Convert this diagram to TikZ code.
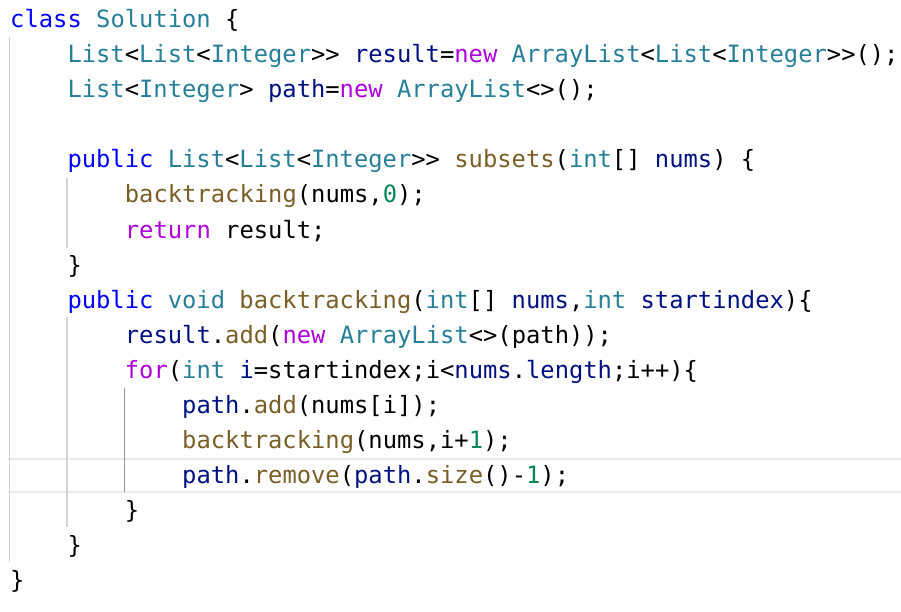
\documentclass[tikz,border=0pt]{standalone}
\usepackage{fontspec}
\usepackage{xcolor}
\setmonofont{DejaVu Sans Mono}
\definecolor{kwblue}{HTML}{0000FF}
\definecolor{tyteal}{HTML}{267F99}
\definecolor{fnbrown}{HTML}{795E26}
\definecolor{vrnavy}{HTML}{001080}
\definecolor{nmgreen}{HTML}{098658}
\definecolor{ctpurple}{HTML}{AF00DB}
\definecolor{guidegray}{HTML}{D3D3D3}
\definecolor{activegray}{HTML}{959595}
\definecolor{hlgray}{HTML}{EAEAEA}
\def\kw#1{\textcolor{kwblue}{#1}}
\def\ty#1{\textcolor{tyteal}{#1}}
\def\fn#1{\textcolor{fnbrown}{#1}}
\def\vr#1{\textcolor{vrnavy}{#1}}
\def\nm#1{\textcolor{nmgreen}{#1}}
\def\ct#1{\textcolor{ctpurple}{#1}}

\begin{document}
\begin{tikzpicture}[x=1pt,y=-1pt,
    code/.style={anchor=base west,inner sep=0pt,
        font=\fontsize{23.8}{35}\selectfont\ttfamily},
    guide/.style={guidegray,line width=1.2pt}]
            \useasboundingbox (0,0) rectangle (901,612);
            % current line highlight
            \draw[hlgray,line width=2pt] (8,459) -- (901,459);
            \draw[hlgray,line width=2pt] (8,492) -- (901,492);
            % indent guides
            \draw[guide] (9.5,37) -- (9.5,562);
            \draw[guide] (67,178) -- (67,248);
            \draw[guide] (67,317) -- (67,527);
            \draw[activegray,line width=1.2pt] (124.5,388) -- (124.5,492);
            % code lines
            \node[code] (l1) at (10,28) {\kw{class} \ty{Solution} \{};
            \node[code] (l2) at (67.3,63) {\ty{List}<\ty{List}<\ty{Integer}>> \vr{result}=\ct{new} \ty{ArrayList}<\ty{List}<\ty{Integer}>>();};
            \node[code] (l3) at (67.3,98) {\ty{List}<\ty{Integer}> \vr{path}=\ct{new} \ty{ArrayList}<>();};
            \node[code] (l5) at (67.3,168) {\kw{public} \ty{List}<\ty{List}<\ty{Integer}>> \fn{subsets}(\ty{int}[] \vr{nums}) \{};
            \node[code] (l6) at (124.7,203) {\fn{backtracking}(nums,\nm{0});};
            \node[code] (l7) at (124.7,238) {\ct{return} result;};
            \node[code] (l8) at (67.3,273) {\}};
            \node[code] (l9) at (67.3,308) {\kw{public} \ty{void} \fn{backtracking}(\ty{int}[] \vr{nums},\ty{int} \vr{startindex})\{};
            \node[code] (l10) at (124.7,343) {\vr{result}.\fn{add}(\ct{new} \ty{ArrayList}<>(path));};
            \node[code] (l11) at (124.7,378) {\ct{for}(\ty{int} \vr{i}=startindex;i<\vr{nums}.\vr{length};i++)\{};
            \node[code] (l12) at (182,413) {\vr{path}.\fn{add}(nums[i]);};
            \node[code] (l13) at (182,448) {\fn{backtracking}(nums,i+\nm{1});};
            \node[code] (l14) at (182,483) {\vr{path}.\fn{remove}(\vr{path}.\fn{size}()-\nm{1});};
            \node[code] (l15) at (124.7,518) {\}};
            \node[code] (l16) at (67.3,553) {\}};
            \node[code] (l17) at (10,588) {\}};
        \end{tikzpicture}
\end{document}
